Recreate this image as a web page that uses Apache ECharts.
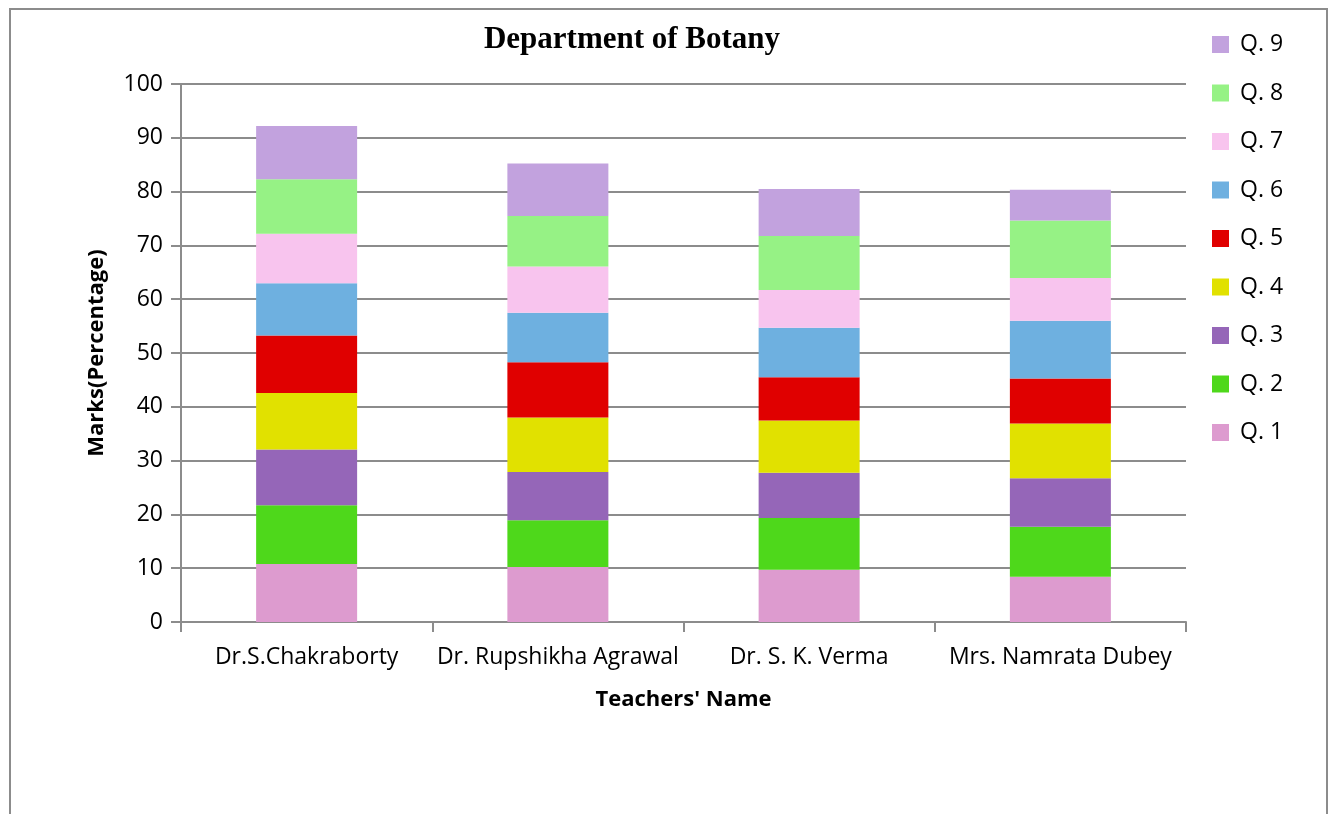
<!DOCTYPE html>
<html>
<head>
<meta charset="utf-8">
<script src="https://cdn.jsdelivr.net/npm/echarts@6/dist/echarts.min.js"></script>
<style>
  html, body { margin: 0; padding: 0; background: #fff; }
  #main { width: 1333px; height: 814px; }
  #frame { position: absolute; left: 9px; top: 8px; width: 1319px; height: 830px;
           border: 2px solid #8c8c8c; pointer-events: none; box-sizing: border-box; }
</style>
</head>
<body>
<div id="main"></div>
<div id="frame"></div>
<script>
// 数据
const teachers = ['Dr.S.Chakraborty', 'Dr. Rupshikha Agrawal', 'Dr. S. K. Verma', 'Mrs. Namrata Dubey']
const questions = ['Q. 1', 'Q. 2', 'Q. 3', 'Q. 4', 'Q. 5', 'Q. 6', 'Q. 7', 'Q. 8', 'Q. 9']
const q1 = [10.8, 10.2, 9.7, 8.4]
const q2 = [10.9, 8.7, 9.65, 9.3]
const q3 = [10.35, 9.0, 8.4, 9.0]
const q4 = [10.5, 10.1, 9.7, 10.2]
const q5 = [10.7, 10.3, 8.05, 8.35]
const q6 = [9.7, 9.2, 9.2, 10.75]
const q7 = [9.2, 8.6, 7.0, 7.95]
const q8 = [10.15, 9.35, 10.05, 10.7]
const q9 = [9.9, 9.75, 8.75, 5.7]
const yTicks = [0, 10, 20, 30, 40, 50, 60, 70, 80, 90, 100]

const colors = ['#dd9bcf', '#4ed81b', '#9566b8', '#e1e100', '#e00000', '#6eb0e0', '#f8c4ee', '#96f285', '#c2a2de']
const values = [q1, q2, q3, q4, q5, q6, q7, q8, q9]
const font = 'Open Sans'
const gray = '#8c8c8c'

const series = questions.map((q, i) => ({
  name: q,
  type: 'bar',
  stack: 'marks',
  barWidth: 101,
  data: values[i],
  itemStyle: { color: colors[i] }
}))

const myChart = echarts.init(document.getElementById('main'))
myChart.setOption({
  animation: false,
  title: {
    text: 'Department of Botany',
    left: 627, top: 19, textAlign: 'center',
    textStyle: { fontFamily: 'Liberation Serif', fontWeight: 'bold', fontSize: 31, color: '#000' }
  },
  legend: {
    orient: 'vertical',
    left: 1207, top: 28,
    data: questions.slice().reverse(),
    icon: 'rect',
    itemWidth: 17, itemHeight: 17,
    itemGap: 25.5,
    textStyle: { fontFamily: font, fontSize: 23, color: '#000', padding: [0, 0, 0, 6] }
  },
  grid: { left: 181, right: 147, top: 84, bottom: 192 },
  xAxis: {
    type: 'category',
    data: teachers,
    name: "Teachers' Name",
    nameLocation: 'middle',
    nameGap: 67,
    nameTextStyle: { fontFamily: font, fontWeight: 'bold', fontSize: 22, color: '#000' },
    axisLine: { lineStyle: { color: gray, width: 2 } },
    axisTick: { show: true, interval: 0, length: 10, lineStyle: { color: gray, width: 2 } },
    axisLabel: { interval: 0, fontFamily: font, fontSize: 23, color: '#000', margin: 24 }
  },
  yAxis: {
    type: 'value',
    min: yTicks[0], max: yTicks[yTicks.length - 1], interval: 10,
    name: 'Marks(Percentage)',
    nameLocation: 'middle',
    nameGap: 73,
    nameTextStyle: { fontFamily: font, fontWeight: 'bold', fontSize: 22, color: '#000' },
    axisLine: { show: true, lineStyle: { color: gray, width: 2 } },
    axisTick: { show: true, length: 10, lineStyle: { color: gray, width: 2 } },
    axisLabel: { fontFamily: font, fontSize: 23, color: '#000', margin: 18 },
    splitLine: { lineStyle: { color: gray, width: 2 } }
  },
  series: series
})
window.onresize = myChart.resize
</script>
</body>
</html>
